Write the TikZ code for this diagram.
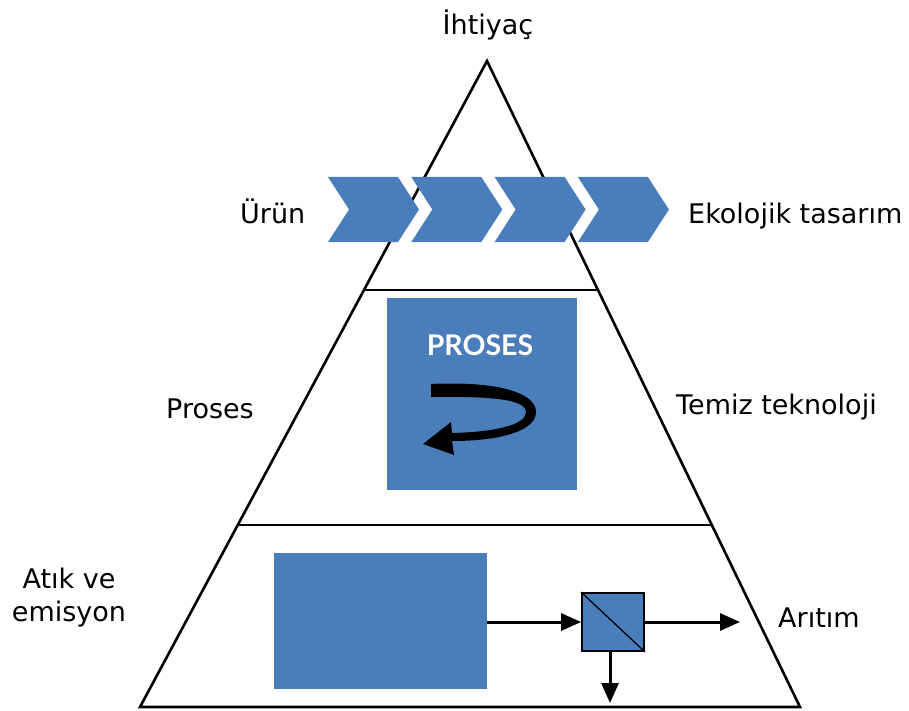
\documentclass[tikz,border=0pt]{standalone}
\usepackage{fontspec}
\setmainfont{DejaVu Sans}
\newfontfamily\titlefont{Lato}
\usetikzlibrary{arrows.meta,calc}
\definecolor{procblue}{RGB}{74,126,187}
\begin{document}
\begin{tikzpicture}[x=1pt,y=-1pt,
  lbl/.style={font=\fontsize{27}{33}\selectfont, text=black, inner sep=0pt, anchor=base},
  wall/.style={line width=2.6pt, line join=miter},
  flow/.style={line width=3pt, -{Triangle[length=20pt,width=17pt]}},
  block/.style={fill=procblue, draw=none, inner sep=0pt}]
\useasboundingbox (0,0) rectangle (909,711);

% pyramid outline and tier dividers
\coordinate (apex) at (487,61);
\coordinate (bl) at (140,707);
\coordinate (br) at (800,707);
\coordinate (t1l) at ($(apex)!0.3545!(bl)$);
\coordinate (t1r) at ($(apex)!0.3545!(br)$);
\coordinate (t2l) at ($(apex)!0.718!(bl)$);
\coordinate (t2r) at ($(apex)!0.718!(br)$);
\draw[wall] (apex) -- (br) -- (bl) -- cycle;
\draw[wall] (t1l) -- (t1r);
\draw[wall] (t2l) -- (t2r);

% product chain
\foreach \i in {0,...,3} {
  \pgfmathsetmacro\xo{328+83.3*\i}
  \fill[procblue] (\xo,177) -- ++(70,0) -- ++(21,32.5) -- ++(-21,32.5)
    -- ++(-70,0) -- ++(21,-32.5) -- cycle;
}

% process block with recycle arrow
\node[block, minimum width=190pt, minimum height=192pt] (proc) at (482,394) {};
\node[font=\titlefont\bfseries\fontsize{28.5}{32}\selectfont, text=white, inner sep=0pt, anchor=base]
  (proctitle) at (480,355) {PROSES};
\fill[black] (431,384) .. controls (495,381) and (536,392) .. (536,412)
  .. controls (536,431) and (500,441) .. (452,441)
  -- (454,455) -- (423,444) -- (451,422) -- (452,433)
  .. controls (495,432) and (526,425) .. (526,412)
  .. controls (526,400) and (495,396) .. (431,397) -- cycle;

% end-of-pipe treatment
\node[block, minimum width=213pt, minimum height=136pt] (tank) at (380.5,621) {};
\node[fill=procblue, draw=black, line width=1.8pt, minimum width=62pt,
  minimum height=58pt, inner sep=0pt] (filt) at (613,622) {};
\draw[line width=1.3pt] (filt.north west) -- (filt.south east);
\coordinate (outlet) at (740,622);
\coordinate (sludge) at (610,703);
\draw[flow] (tank.east |- filt.west) -- (filt.west);
\draw[flow] (filt.east) -- (outlet);
\draw[flow] (filt.south -| sludge) -- (sludge);

% labels
\node[lbl] (need) at (488,35) {İhtiyaç};
\node[lbl, anchor=base west] (prod) at (240,224) {Ürün};
\node[lbl, anchor=base west] (eco) at (688,224) {Ekolojik tasarım};
\node[lbl, anchor=base west] (proses) at (166,418) {Proses};
\node[lbl, anchor=base west] (clean) at (676,414) {Temiz teknoloji};
\node[lbl, align=center, anchor=base] (waste) at (69,621) {Atık ve\\emisyon};
\node[lbl, anchor=base west] (treat) at (778,627) {Arıtım};
\end{tikzpicture}
\end{document}
